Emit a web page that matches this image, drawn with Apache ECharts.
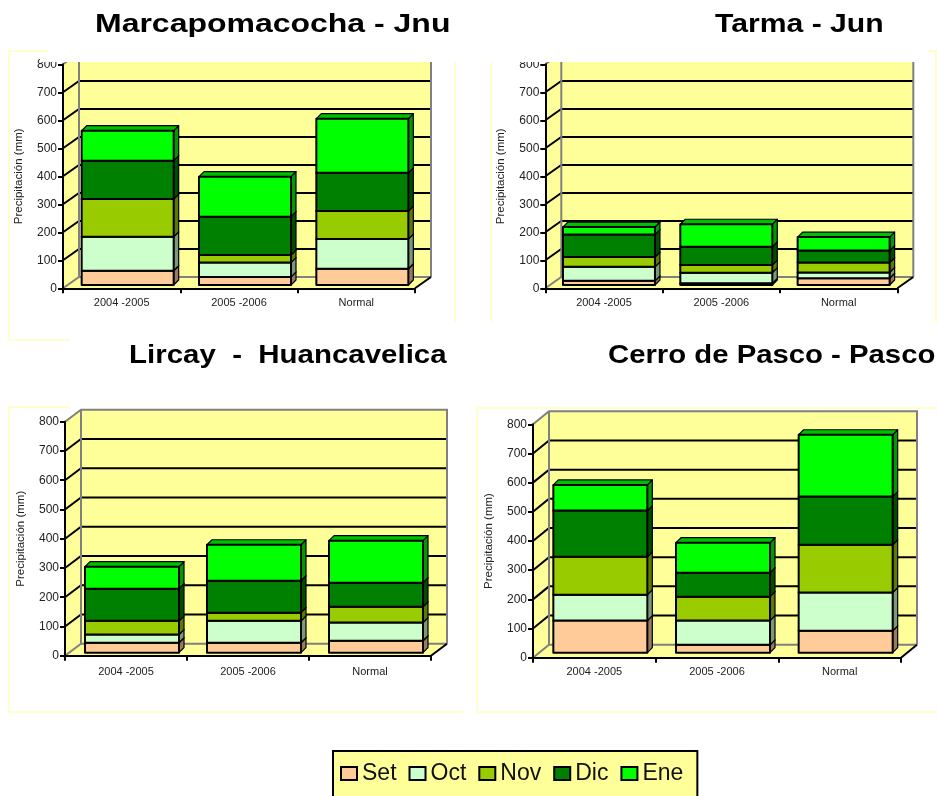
<!DOCTYPE html>
<html>
<head>
<meta charset="utf-8">
<style>
html, body { margin: 0; padding: 0; background: #fff; overflow: hidden; }
#chart { width: 937px; height: 796px; }
</style>
<script src="https://cdn.jsdelivr.net/npm/echarts@6/dist/echarts.min.js"></script>
</head>
<body>
<div id="chart"></div>
<script>
const periods = ['2004 -2005', '2005 -2006', 'Normal'];
const months  = ['Set', 'Oct', 'Nov', 'Dic', 'Ene'];
const yTicks  = [0, 100, 200, 300, 400, 500, 600, 700, 800];

const marcaSet = [51, 29, 58];
const marcaOct = [121, 51, 106];
const marcaNov = [135, 27, 100];
const marcaDic = [137, 137, 137];
const marcaEne = [107, 143, 193];

const tarmaSet = [15, 6, 24];
const tarmaOct = [50, 38, 21];
const tarmaNov = [35, 27, 35];
const tarmaDic = [80, 66, 43];
const tarmaEne = [27, 80, 48];

const lircaySet = [34, 34, 41];
const lircayOct = [28, 75, 62];
const lircayNov = [47, 28, 54];
const lircayDic = [110, 109, 82];
const lircayEne = [75, 123, 144];

const pascoSet = [110, 27, 75];
const pascoOct = [89, 83, 131];
const pascoNov = [130, 82, 164];
const pascoDic = [158, 82, 165];
const pascoEne = [88, 103, 212];

const FONT = '"Liberation Sans", Arial, sans-serif';
const WALL = '#FFFF99';
const FRAME = '#FFFFCC';

// front, side (darkened) and top colours of each month's block
const monthColors = {
    Set: ['#FFCC99', '#997A5C', '#BF9973'],
    Oct: ['#CCFFCC', '#7A997A', '#99BF99'],
    Nov: ['#99CC00', '#5C7A00', '#739900'],
    Dic: ['#008000', '#004D00', '#006000'],
    Ene: ['#00FF00', '#009900', '#00BF00'],
};

// dx/dy = wall depth, lift = bar base above the axis, barW = bar width
const panels = [
    { values: [marcaSet, marcaOct, marcaNov, marcaDic, marcaEne],
      grid: [63, 64.3, 352, 224], dx: 16, dy: 11.3, lift: 3.3, barW: 92, off: 6, labelMargin: 9.5 },
    { values: [tarmaSet, tarmaOct, tarmaNov, tarmaDic, tarmaEne],
      grid: [545.3, 64.3, 352, 224], dx: 16, dy: 11.3, lift: 3.3, barW: 92, off: 5, labelMargin: 9.5 },
    { values: [lircaySet, lircayOct, lircayNov, lircayDic, lircayEne],
      grid: [65, 421.7, 366, 234], dx: 16, dy: 12, lift: 3, barW: 94, off: 6, labelMargin: 10.5 },
    { values: [pascoSet, pascoOct, pascoNov, pascoDic, pascoEne],
      grid: [533, 424.3, 368, 233.4], dx: 16, dy: 13, lift: 5, barW: 94, off: 6, labelMargin: 8.5 },
];

// the source titles are letter-spaced, scaleX stands in for that
const titles = [
    { text: 'Marcapomacocha - Jnu', x: 95, y: 12, size: 26, scaleX: 1.23 },
    { text: 'Tarma - Jun', x: 715, y: 12, size: 26, scaleX: 1.16 },
    { text: 'Lircay  -  Huancavelica', x: 129, y: 344, size: 25, scaleX: 1.178 },
    { text: 'Cerro de Pasco - Pasco', x: 608, y: 344, size: 25, scaleX: 1.172 },
];

function renderWalls(panel) {
    return (params, api) => {
        const cs = params.coordSys;
        const { dx, dy } = panel;
        const x0 = cs.x, x1 = cs.x + cs.width;
        const yAt = (v) => api.coord([0, v])[1];
        const y0 = yAt(0), yTop = yAt(800);
        const gray = { stroke: '#808080', lineWidth: 2, fill: null };
        const children = [
            { type: 'polygon', shape: { points: [[x0, y0], [x0 + dx, y0 - dy], [x0 + dx, yTop - dy], [x0, yTop]] }, style: { fill: WALL } },
            { type: 'rect', shape: { x: x0 + dx, y: yTop - dy, width: x1 - x0, height: y0 - yTop }, style: { fill: WALL } },
            { type: 'polygon', shape: { points: [[x0, y0], [x1, y0], [x1 + dx, y0 - dy], [x0 + dx, y0 - dy]] }, style: { fill: WALL } },
        ];
        yTicks.slice(1, -1).forEach((v) => {
            const y = yAt(v);
            children.push({ type: 'polyline', shape: { points: [[x0, y], [x0 + dx, y - dy], [x1 + dx, y - dy]] },
                style: { stroke: '#000', lineWidth: 2, fill: null } });
        });
        children.push(
            { type: 'polyline', shape: { points: [[x0, y0], [x0 + dx, y0 - dy], [x1 + dx, y0 - dy]] }, style: gray },
            { type: 'polyline', shape: { points: [[x0, yTop], [x0 + dx, yTop - dy], [x1 + dx, yTop - dy], [x1 + dx, y0 - dy]] }, style: gray },
            { type: 'line', shape: { x1: x0 + dx, y1: yTop - dy, x2: x0 + dx, y2: y0 - dy }, style: gray },
            { type: 'line', shape: { x1: x1, y1: y0, x2: x1 + dx, y2: y0 - dy }, style: { stroke: '#000', lineWidth: 2 } },
        );
        return { type: 'group', children };
    };
}

function renderBlock(panel, month) {
    const [front, side, top] = monthColors[month];
    const d = 5;
    return (params, api) => {
        const cat = api.value(0);
        const [cx, yLow] = api.coord([cat, api.value(1)]);
        const yHigh = api.coord([cat, api.value(2)])[1];
        const l = cx + panel.off - panel.barW / 2;
        const r = l + panel.barW;
        const b = yLow - panel.lift;
        const t = yHigh - panel.lift;
        const thin = { stroke: '#000', lineWidth: 1.2, lineJoin: 'round' };
        return {
            type: 'group',
            children: [
                { type: 'polygon', shape: { points: [[r, b], [r + d, b - d], [r + d, t - d], [r, t]] }, style: { fill: side, ...thin } },
                { type: 'polygon', shape: { points: [[l, t], [l + d, t - d], [r + d, t - d], [r, t]] }, style: { fill: top, ...thin } },
                { type: 'rect', shape: { x: l, y: t, width: panel.barW, height: b - t },
                  style: { fill: front, stroke: '#000', lineWidth: 2, lineJoin: 'round' } },
            ],
        };
    };
}

const grids = [], xAxes = [], yAxes = [], series = [];

panels.forEach((panel, i) => {
    const [left, top, width, height] = panel.grid;
    grids.push({ left, top, width, height });
    xAxes.push({
        gridIndex: i, type: 'category', data: periods, z: 10,
        axisLine: { lineStyle: { color: '#000', width: 2 } },
        axisTick: { show: true, alignWithLabel: false, length: 5, lineStyle: { color: '#000', width: 2 } },
        axisLabel: { color: '#222', fontFamily: FONT, fontSize: 11, margin: panel.labelMargin },
    });
    yAxes.push({
        gridIndex: i, type: 'value', min: 0, max: 800, interval: 100, z: 10,
        name: 'Precipitación (mm)', nameLocation: 'middle', nameGap: 38,
        nameTextStyle: { color: '#222', fontFamily: FONT, fontSize: 11.5 },
        axisLine: { show: true, lineStyle: { color: '#000', width: 2 } },
        axisTick: { show: true, length: 5, lineStyle: { color: '#000', width: 2 } },
        axisLabel: { color: '#222', fontFamily: FONT, fontSize: 12, margin: 6 },
        splitLine: { show: false },
    });
    series.push({
        type: 'custom', name: 'walls' + i, xAxisIndex: i, yAxisIndex: i, z: 1, silent: true,
        renderItem: renderWalls(panel), data: [[0, 0]],
    });
    const running = periods.map(() => 0);
    months.forEach((month, m) => {
        const data = panel.values[m].map((v, c) => {
            const row = [c, running[c], running[c] + v];
            running[c] += v;
            return row;
        });
        series.push({
            type: 'custom', name: month, xAxisIndex: i, yAxisIndex: i, z: 2 + m, silent: true,
            itemStyle: { color: monthColors[month][0] },
            encode: { x: 0, y: [1, 2] },
            renderItem: renderBlock(panel, month), data,
        });
    });
});

const frame = (points) => ({
    type: 'polyline', silent: true, z: 0,
    shape: { points },
    style: { stroke: FRAME, lineWidth: 2, fill: null },
});

const option = {
    animation: false,
    backgroundColor: '#fff',
    legend: {
        data: months.map((name) => ({
            name, icon: 'rect',
            itemStyle: { color: monthColors[name][0], borderColor: '#000', borderWidth: 2 },
        })),
        left: 333, top: 751, orient: 'horizontal', selectedMode: false,
        itemWidth: 16, itemHeight: 13, itemGap: 12,
        padding: [11, 14, 30, 7],
        backgroundColor: WALL, borderColor: '#000', borderWidth: 2,
        textStyle: { fontFamily: FONT, fontSize: 23, color: '#111' },
    },
    grid: grids, xAxis: xAxes, yAxis: yAxes, series,
    graphic: [
        frame([[48, 51], [9, 51], [9, 340], [70, 340]]),
        frame([[455, 62], [455, 322]]),
        frame([[491, 62], [491, 322]]),
        frame([[928, 51], [936, 51], [936, 322]]),
        frame([[70, 407], [9, 407], [9, 712], [465, 712]]),
        frame([[937, 408], [477, 408], [477, 712], [937, 712]]),
        // the two upper panels are cut off along their top edge
        { type: 'rect', silent: true, z: 100, shape: { x: 40, y: 52, width: 400, height: 10 }, style: { fill: '#fff' } },
        { type: 'rect', silent: true, z: 100, shape: { x: 520, y: 52, width: 400, height: 10 }, style: { fill: '#fff' } },
        ...titles.map((t) => ({
            type: 'text', silent: true, z: 101, x: t.x, y: t.y, scaleX: t.scaleX,
            style: { text: t.text, fill: '#000', font: `bold ${t.size}px ${FONT}` },
        })),
    ],
};

const chart = echarts.init(document.getElementById('chart'), null, { renderer: 'canvas' });
chart.setOption(option);
</script>
</body>
</html>
